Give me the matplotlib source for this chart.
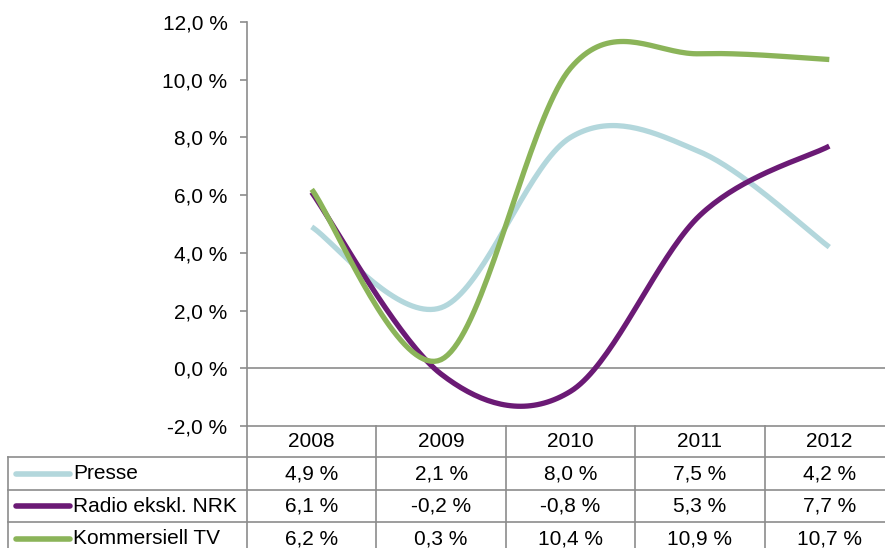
import numpy as np
import matplotlib
matplotlib.use("Agg")
import matplotlib.pyplot as plt
from matplotlib.transforms import blended_transform_factory

plt.rcParams['font.family'] = ['Liberation Sans', 'DejaVu Sans']

years = ['2008', '2009', '2010', '2011', '2012']
series = ['Presse', 'Radio ekskl. NRK', 'Kommersiell TV']
presse = [4.9, 2.1, 8.0, 7.5, 4.2]
radio = [6.1, -0.2, -0.8, 5.3, 7.7]
tv = [6.2, 0.3, 10.4, 10.9, 10.7]
colors = ['#B3D7DC', '#6B1A75', '#8BB459']

W, H = 885, 548
grey = '#8C8C8C'


def smooth(xs, ys, n=40):
    # Excel-like smoothed line: cubic Bezier through points, control points from neighbours
    pts = np.column_stack([xs, ys]).astype(float)
    out = []
    for i in range(len(pts) - 1):
        p0 = pts[max(i - 1, 0)]
        p1 = pts[i]
        p2 = pts[i + 1]
        p3 = pts[min(i + 2, len(pts) - 1)]
        c1 = p1 + (p2 - p0) / 6
        c2 = p2 - (p3 - p1) / 6
        t = np.linspace(0, 1, n)[:, None]
        seg = ((1 - t) ** 3) * p1 + 3 * ((1 - t) ** 2) * t * c1 + 3 * (1 - t) * t ** 2 * c2 + t ** 3 * p2
        out.append(seg if i == 0 else seg[1:])
    out = np.vstack(out)
    return out[:, 0], out[:, 1]


fig = plt.figure(figsize=(W / 100, H / 100), dpi=100)
left, right, top, bottom = 247, 894, 22, 426
ax = fig.add_axes([left / W, 1 - bottom / H, (right - left) / W, (bottom - top) / H])
ax.set_xlim(-0.5, len(years) - 0.5)
ax.set_ylim(-2, 12)

x = np.arange(len(years))
for vals, c in zip([presse, radio, tv], colors):
    sx, sy = smooth(x, vals)
    ax.plot(sx, sy, color=c, lw=3.8, solid_capstyle='butt', zorder=3, clip_on=False)

ax.axhline(0, color=grey, lw=1.2, zorder=1)
for s in ['top', 'right']:
    ax.spines[s].set_visible(False)
for s in ['left', 'bottom']:
    ax.spines[s].set_color(grey)
    ax.spines[s].set_linewidth(1.2)
ax.set_xticks([])
yt = np.arange(-2, 13, 2)
ax.set_yticks(yt)
ax.set_yticklabels([f'{v:.1f} %'.replace('.', ',') for v in yt], fontsize=15)
ax.tick_params(axis='y', direction='out', length=5, color=grey, width=1.2, pad=9)

# data table below the plot
tb = blended_transform_factory(ax.transData, fig.transFigure)
tf = fig.transFigure
rows_y = [426, 457, 490, 522, 556]


def fy(yp):
    return 1 - yp / H


lk = dict(color=grey, lw=1.2, clip_on=False)
# header row verticals and lines
for i in range(len(years) + 1):
    fig.add_artist(plt.Line2D([i - 0.5, i - 0.5], [fy(rows_y[0]), fy(rows_y[-1])], transform=tb, **lk))
fig.add_artist(plt.Line2D([8 / W, 8 / W], [fy(rows_y[1]), fy(rows_y[-1])], transform=tf, **lk))
for yp in rows_y[1:]:
    fig.add_artist(plt.Line2D([8 / W, 1.02], [fy(yp), fy(yp)], transform=tf, **lk))

for i, yr in enumerate(years):
    fig.text(i, fy((rows_y[0] + rows_y[1]) / 2), yr, transform=tb, ha='center', va='center', fontsize=15)

for r, (name, vals, c) in enumerate(zip(series, [presse, radio, tv], colors)):
    yc = fy((rows_y[r + 1] + rows_y[r + 2]) / 2)
    fig.add_artist(plt.Line2D([16 / W, 70 / W], [yc, yc], transform=tf, color=c, lw=4,
                              solid_capstyle='round'))
    fig.text(73 / W, yc, name, transform=tf, ha='left', va='center', fontsize=15)
    for i, v in enumerate(vals):
        fig.text(i, yc, f'{v:.1f} %'.replace('.', ','), transform=tb, ha='center', va='center', fontsize=15)

fig.savefig('out.png', dpi=100)
